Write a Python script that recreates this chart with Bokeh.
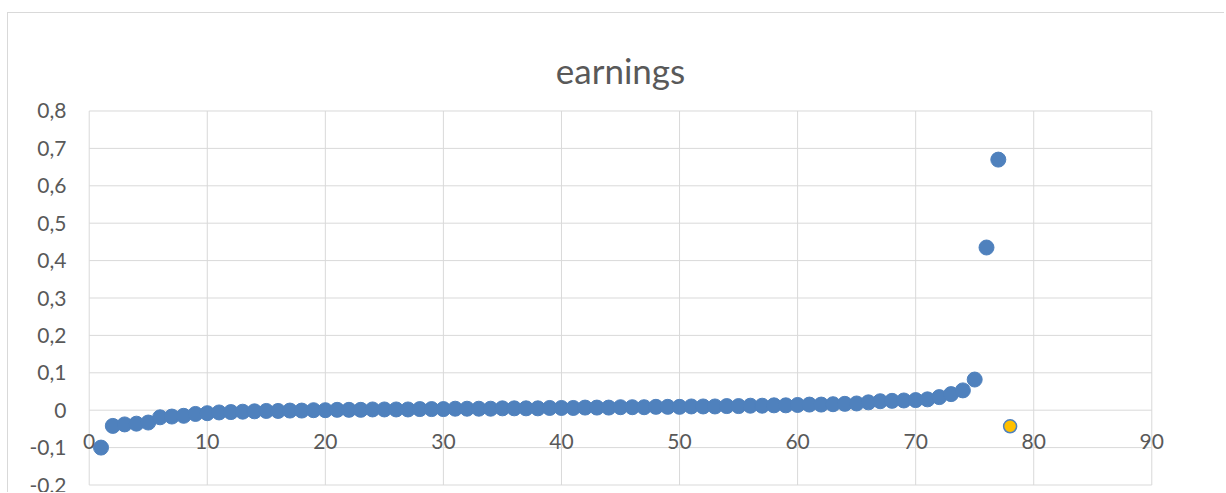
from bokeh.plotting import figure
from bokeh.models import FixedTicker, Range1d, LabelSet, ColumnDataSource
from bokeh.core.properties import value
from bokeh.embed import file_html
from bokeh.resources import INLINE

# ---- data ----
index = list(range(1, 78))
earnings = [
    -0.100, -0.042, -0.038, -0.036, -0.033, -0.019, -0.017, -0.015, -0.010, -0.008,
    -0.006, -0.005, -0.004, -0.003, -0.002, -0.002, -0.001, -0.001, 0.000, 0.000,
    0.001, 0.001, 0.001, 0.002, 0.002, 0.002, 0.002, 0.003, 0.003, 0.003,
    0.004, 0.004, 0.004, 0.004, 0.005, 0.005, 0.005, 0.005, 0.006, 0.006,
    0.006, 0.007, 0.007, 0.007, 0.008, 0.008, 0.008, 0.009, 0.009, 0.009,
    0.010, 0.010, 0.010, 0.011, 0.011, 0.012, 0.012, 0.013, 0.013, 0.014,
    0.015, 0.015, 0.016, 0.017, 0.018, 0.021, 0.024, 0.025, 0.026, 0.027,
    0.029, 0.035, 0.043, 0.053, 0.082, 0.435, 0.670,
]
highlight_index = [78]
highlight_earnings = [-0.043]

x_ticks = [0, 10, 20, 30, 40, 50, 60, 70, 80, 90]
x_tick_labels = ["0", "10", "20", "30", "40", "50", "60", "70", "80", "90"]
x_axis_cross = 0.0
y_ticks = [-0.2, -0.1, 0.0, 0.1, 0.2, 0.3, 0.4, 0.5, 0.6, 0.7, 0.8]
y_tick_labels = ["-0,2", "-0,1", "0", "0,1", "0,2", "0,3", "0,4", "0,5", "0,6", "0,7", "0,8"]

TEXT = "#595959"
GRID = "#d9d9d9"
BLUE = "#4f81bd"
GOLD = "#ffc000"
FONT = "Lato"

# a little room round the gridded area so edge labels are not clipped
PADX = 1.5
PADY = 0.004

p = figure(
    width=1217, height=480,
    x_range=Range1d(x_ticks[0] - PADX, x_ticks[-1] + PADX),
    y_range=Range1d(y_ticks[0] - PADY, y_ticks[-1] + PADY),
    output_backend="svg", toolbar_location=None,
    x_axis_location=None,
    min_border_left=63, min_border_right=56, min_border_top=96, min_border_bottom=7,
    background_fill_color="white", border_fill_color="white",
)
p.styles = {"border-top": "1px solid #d9d9d9", "border-left": "1px solid #d9d9d9",
            "margin-top": "12px", "margin-left": "7px"}

p.title.text = "earnings"
p.title.align = "center"
p.title.text_font = FONT
p.title.text_font_size = "35px"
p.title.text_font_style = "normal"
p.title.text_color = TEXT
p.title.standoff = 38

p.outline_line_color = None
p.xgrid.visible = False
p.ygrid.visible = False

# y axis
yax = p.yaxis[0]
yax.ticker = FixedTicker(ticks=y_ticks)
yax.major_label_overrides = {t: l for t, l in zip(y_ticks, y_tick_labels)}
yax.axis_line_color = None
yax.major_tick_line_color = None
yax.minor_tick_line_color = None
yax.major_tick_in = 0
yax.major_tick_out = 0
yax.major_label_standoff = 5
yax.major_label_text_font = FONT
yax.major_label_text_font_size = "21px"
yax.major_label_text_color = TEXT

# gridlines spanning exactly the tick extents
p.segment(x0=x_ticks, x1=x_ticks,
          y0=[y_ticks[0]] * len(x_ticks), y1=[y_ticks[-1]] * len(x_ticks),
          line_color=GRID, line_width=1)
p.segment(x0=[x_ticks[0]] * len(y_ticks), x1=[x_ticks[-1]] * len(y_ticks),
          y0=y_ticks, y1=y_ticks,
          line_color=GRID, line_width=1)

# x tick labels sitting under the horizontal axis, which crosses at y = 0
xlab_src = ColumnDataSource(dict(x=x_ticks, y=[x_axis_cross] * len(x_ticks), text=x_tick_labels))
xlabels = LabelSet(x="x", y="y", text="text", source=xlab_src,
                   text_align="center", text_baseline="middle", y_offset=-31,
                   text_font=value(FONT), text_font_size=value("21px"), text_color=TEXT)
p.add_layout(xlabels)

p.scatter(index, earnings, size=15, fill_color=BLUE, line_color=BLUE, line_width=1)
p.scatter(highlight_index, highlight_earnings, size=13, fill_color=GOLD,
          line_color=BLUE, line_width=1.5)

open("out.html", "w").write(file_html(p, INLINE))
